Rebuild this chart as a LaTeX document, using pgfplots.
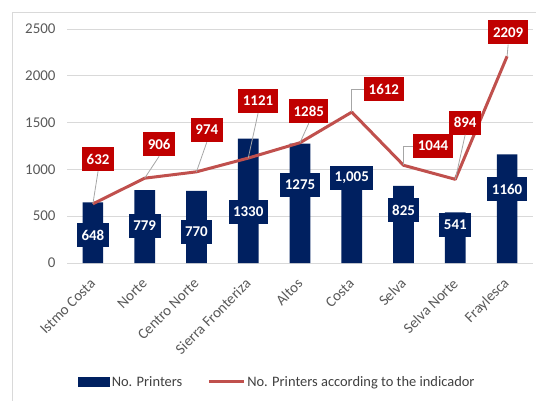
\documentclass[border=0pt]{standalone}
\usepackage{pgfplots}
\pgfplotsset{compat=1.18}
\usepackage{fontspec}
\setmainfont{Carlito}
\definecolor{navy}{RGB}{0,32,96}
\definecolor{lred}{RGB}{192,80,77}
\definecolor{boxred}{RGB}{192,0,0}
\definecolor{txtgray}{RGB}{89,89,89}
\definecolor{legtxt}{RGB}{64,64,64}
\definecolor{gridgray}{RGB}{217,217,217}
\definecolor{leader}{RGB}{166,166,166}
\tikzset{
 nbox/.style={fill=navy, text=white, font=\bfseries\fontsize{15}{15}\selectfont, inner xsep=4.5bp, inner ysep=0pt, minimum height=24bp},
 rbox/.style={fill=boxred, text=white, font=\bfseries\fontsize{15}{15}\selectfont, inner xsep=4.5bp, inner ysep=0pt, minimum height=24bp},
 lead/.style={leader, line width=0.8bp}
}
\begin{document}
\begin{tikzpicture}
\useasboundingbox (0,0) rectangle (536bp,401bp);
\draw[gridgray, line width=0.75bp] (12bp,0) -- (12bp,389bp) -- (536bp,389bp);
\begin{axis}[
 at={(67bp,138bp)}, anchor=south west, scale only axis,
 width=466bp, height=234bp,
 xmin=-0.5, xmax=8.5, ymin=0, ymax=2500,
 ytick={0,500,...,2500},
 xtick={0,...,8},
 xticklabels={Istmo Costa, Norte, Centro Norte, Sierra Fronteriza, Altos, Costa, Selva, Selva Norte, Fraylesca},
 x tick label style={inner sep=0pt, yshift=-18bp, rotate=45, anchor=east, font=\fontsize{15}{17}\selectfont, text=txtgray},
 y tick label style={font=\fontsize{15}{17}\selectfont, text=txtgray, xshift=-8bp},
 /pgf/number format/assume math mode=true,
 /pgf/number format/1000 sep={},
 ymajorgrids, grid style={gridgray, line width=0.75bp},
 axis line style={draw=none},
 major tick length=0,
 clip=false,
 legend columns=2,
 legend cell align=left,
 legend style={at={(0.451,-0.508)}, anchor=center, draw=none, fill=none,
   font=\fontsize{14.5}{16}\selectfont, text=legtxt,
   /tikz/every even column/.append style={column sep=23bp}},
]
\addplot[ybar, bar width=0.4, fill=navy, draw=none,
  legend image code/.code={\fill[navy] (0bp,-5bp) rectangle (32bp,5bp);}]
  coordinates {(0,648) (1,779) (2,770) (3,1330) (4,1275) (5,1005) (6,825) (7,541) (8,1160)};
\addlegendentry{No. Printers}
\addplot[lred, line width=3bp, no marks, line join=round,
  legend image code/.code={\draw[lred, line width=3bp] (0bp,0) -- (35bp,0);}]
  coordinates {(0,632) (1,906) (2,974) (3,1121) (4,1285) (5,1612) (6,1044) (7,894) (8,2209)};
\addlegendentry{No. Printers according to the indicador}

% red labels
\node[rbox] (r0) at (axis cs:0.10,1111) {632};
\node[rbox] (r1) at (axis cs:1.28,1271) {906};
\node[rbox] (r2) at (axis cs:2.20,1421) {974};
\node[rbox] (r3) at (axis cs:3.19,1731) {1121};
\node[rbox] (r4) at (axis cs:4.17,1624) {1285};
\node[rbox] (r5) at (axis cs:5.62,1854) {1612};
\node[rbox] (r6) at (axis cs:6.57,1250) {1044};
\node[rbox] (r7) at (axis cs:7.19,1501) {894};
\node[rbox] (r8) at (axis cs:8.02,2463) {2209};
\draw[lead] (r0.south) -- (axis cs:0,632);
\draw[lead] (r1.south) -- (axis cs:1,906);
\draw[lead] (r2.south) -- (axis cs:2,974);
\draw[lead] (r3.south) -- (axis cs:3,1121);
\draw[lead] (r4.south) -- (axis cs:4,1285);
\draw[lead] (r5.west) -| (axis cs:5,1612);
\draw[lead] (r6.west) -| (axis cs:6,1044);
\draw[lead] (r7.south) -- (axis cs:7,894);
\draw[lead] (r8.south) -- (axis cs:8,2209);

% navy labels
\node[nbox] at (axis cs:0,299) {648};
\node[nbox] at (axis cs:1,395) {779};
\node[nbox] at (axis cs:2,331) {770};
\node[nbox] at (axis cs:3,545) {1330};
\node[nbox] at (axis cs:4,833) {1275};
\node[nbox] at (axis cs:5,908) {1,005};
\node[nbox] at (axis cs:6,566) {825};
\node[nbox] at (axis cs:7,406) {541};
\node[nbox] at (axis cs:8,791) {1160};
\end{axis}
\end{tikzpicture}
\end{document}
